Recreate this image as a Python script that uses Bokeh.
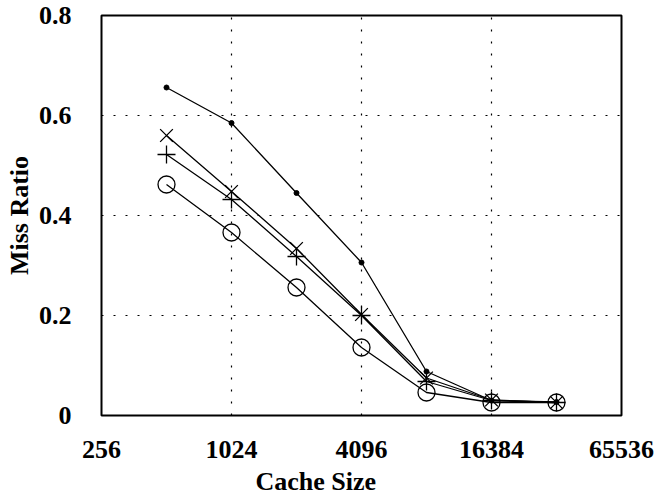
from bokeh.plotting import figure
from bokeh.models import Range1d, FixedTicker, Title
from bokeh.embed import file_html
from bokeh.resources import INLINE

# Cache sizes (log2 axis) and miss ratios for four configurations
cache_sizes = [512, 1024, 2048, 4096, 8192, 16384, 32768]
miss_dot = [0.656, 0.585, 0.445, 0.306, 0.088, 0.030, 0.027]
miss_x = [0.560, 0.448, 0.334, 0.202, 0.075, 0.031, 0.026]
miss_plus = [0.522, 0.432, 0.318, 0.200, 0.068, 0.030, 0.026]
miss_circle = [0.462, 0.366, 0.256, 0.136, 0.046, 0.026, 0.026]

x_ticks = [256, 1024, 4096, 16384, 65536]
y_ticks = [0, 0.2, 0.4, 0.6, 0.8]

FONT = "Liberation Serif"
FSIZE = "26px"

p = figure(
    width=671, height=500,
    x_axis_type="log",
    x_range=Range1d(256, 65536), y_range=Range1d(0, 0.8),
    output_backend="svg", toolbar_location=None,
    min_border_left=101, min_border_right=50,
    min_border_top=15, min_border_bottom=85,
)
p.background_fill_color = "white"
p.border_fill_color = "white"
p.outline_line_color = "black"
p.outline_line_width = 2

# axes
p.xaxis.ticker = FixedTicker(ticks=x_ticks)
p.xaxis.major_label_overrides = {t: str(t) for t in x_ticks}
p.yaxis.ticker = FixedTicker(ticks=y_ticks)
p.yaxis.major_label_overrides = {0: "0", 0.2: "0.2", 0.4: "0.4", 0.6: "0.6", 0.8: "0.8"}
for ax in (p.xaxis, p.yaxis):
    ax.axis_line_color = None
    ax.major_tick_line_color = None
    ax.minor_tick_line_color = None
    ax.major_label_text_font = FONT
    ax.major_label_text_font_style = "bold"
    ax.major_label_text_font_size = FSIZE
    ax.major_label_text_color = "black"
p.xaxis.major_label_standoff = 19
p.yaxis.major_label_standoff = 24

p.yaxis.axis_label = "Miss Ratio"
p.yaxis.axis_label_text_font = FONT
p.yaxis.axis_label_text_font_style = "bold"
p.yaxis.axis_label_text_font_size = FSIZE
p.yaxis.axis_label_text_color = "black"
p.yaxis.axis_label_standoff = 2

# dotted grid
for g in (p.xgrid, p.ygrid):
    g.grid_line_color = "black"
    g.grid_line_width = 1.2
    g.grid_line_dash = "2 10"
p.xgrid.ticker = FixedTicker(ticks=x_ticks)
p.ygrid.ticker = FixedTicker(ticks=y_ticks)

LW = 1.3
p.line(cache_sizes, miss_dot, line_color="black", line_width=LW)
p.scatter(cache_sizes, miss_dot, marker="circle", size=5,
          fill_color="black", line_color="black")

p.line(cache_sizes, miss_x, line_color="black", line_width=LW)
p.scatter(cache_sizes, miss_x, marker="x", size=18,
          line_color="black", line_width=LW)

p.line(cache_sizes, miss_plus, line_color="black", line_width=LW)
p.scatter(cache_sizes, miss_plus, marker="cross", size=18,
          line_color="black", line_width=LW)

p.line(cache_sizes, miss_circle, line_color="black", line_width=LW)
p.scatter(cache_sizes, miss_circle, marker="circle", size=17,
          fill_color=None, line_color="black", line_width=LW)

# x axis title, set a little left of the frame centre
p.add_layout(Title(
    text="Cache Size", align="left", offset=154, standoff=8,
    text_font=FONT, text_font_style="bold", text_font_size=FSIZE,
    text_color="black",
), "below")

open("out.html", "w").write(file_html(p, INLINE))
